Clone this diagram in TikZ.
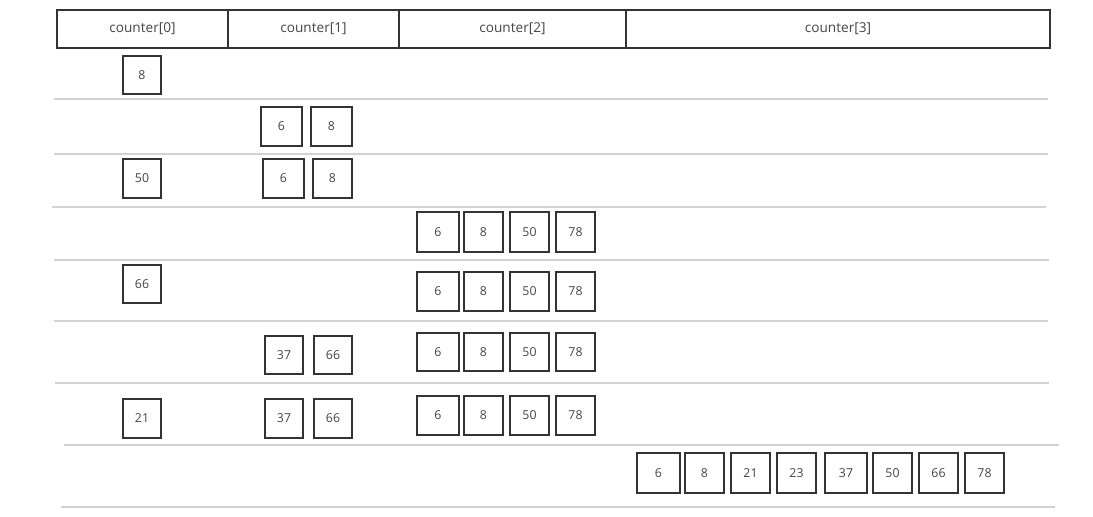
\documentclass[tikz,border=0pt]{standalone}
\usepackage{fontspec}
\setmainfont{Open Sans}
\definecolor{ink}{HTML}{333333}
\definecolor{txt}{HTML}{444444}
\definecolor{sep}{HTML}{D3D3D3}
\tikzset{
  cell/.style={draw=ink, line width=1.6pt, inner sep=0pt, text=txt, font=\fontsize{12.3}{14}\selectfont},
  headcell/.style={draw=ink, line width=1.6pt, inner sep=0pt, text=txt, font=\fontsize{13.6}{15}\selectfont},
  sepline/.style={draw=sep, line width=1.8pt}
}
\newcommand\bx[7][cell]{%
  \pgfmathsetmacro\bw{#5-#3}\pgfmathsetmacro\bh{#6-#4}%
  \node[#1, minimum width=\bw pt, minimum height=\bh pt] (#2) at ({(#3+#5)/2},{(#4+#6)/2}) {#7};}
\begin{document}
\begin{tikzpicture}[x=1pt,y=-1pt]
\useasboundingbox (0,0) rectangle (1093,517);
% header
\bx[headcell]{h0}{57}{10}{228}{48}{counter[0]}
\bx[headcell]{h1}{228}{10}{399}{48}{counter[1]}
\bx[headcell]{h2}{399}{10}{626}{48}{counter[2]}
\bx[headcell]{h3}{626}{10}{1050}{48}{counter[3]}
% separators
\coordinate (s1a) at (54,99);  \coordinate (s1b) at (1048,99);
\coordinate (s2a) at (54,154); \coordinate (s2b) at (1048,154);
\coordinate (s3a) at (52,207); \coordinate (s3b) at (1046,207);
\coordinate (s4a) at (54,260); \coordinate (s4b) at (1049,260);
\coordinate (s5a) at (54,321); \coordinate (s5b) at (1048,321);
\coordinate (s6a) at (55,383); \coordinate (s6b) at (1049,383);
\coordinate (s7a) at (64,445); \coordinate (s7b) at (1059,445);
\coordinate (s8a) at (61,507); \coordinate (s8b) at (1055,507);
\foreach \i in {1,...,8} \draw[sepline] (s\i a) -- (s\i b);
% row 1
\bx{r1a}{123}{56}{161}{94}{8}
% row 2
\bx{r2a}{261}{107}{302}{146}{6}
\bx{r2b}{311}{107}{352}{146}{8}
% row 3
\bx{r3a}{123}{159}{161}{198}{50}
\bx{r3b}{263}{159}{304}{198}{6}
\bx{r3c}{313}{159}{352}{198}{8}
% row 4
\bx{r4a}{417}{212}{459}{252}{6}
\bx{r4b}{464}{212}{503}{252}{8}
\bx{r4c}{510}{212}{549}{252}{50}
\bx{r4d}{556}{212}{595}{252}{78}
% row 5
\bx{r5a}{123}{265}{161}{303}{66}
\bx{r5b}{417}{272}{459}{311}{6}
\bx{r5c}{464}{272}{503}{311}{8}
\bx{r5d}{510}{272}{549}{311}{50}
\bx{r5e}{556}{272}{595}{311}{78}
% row 6
\bx{r6a}{265}{336}{303}{374}{37}
\bx{r6b}{314}{336}{352}{374}{66}
\bx{r6c}{417}{333}{459}{371}{6}
\bx{r6d}{464}{333}{503}{371}{8}
\bx{r6e}{510}{333}{549}{371}{50}
\bx{r6f}{556}{333}{595}{371}{78}
% row 7
\bx{r7a}{123}{399}{161}{438}{21}
\bx{r7b}{265}{399}{303}{438}{37}
\bx{r7c}{314}{399}{352}{438}{66}
\bx{r7d}{417}{396}{459}{435}{6}
\bx{r7e}{464}{396}{503}{435}{8}
\bx{r7f}{510}{396}{549}{435}{50}
\bx{r7g}{556}{396}{595}{435}{78}
% row 8
\bx{r8a}{637}{453}{680}{493}{6}
\bx{r8b}{685}{453}{724}{493}{8}
\bx{r8c}{731}{453}{770}{493}{21}
\bx{r8d}{777}{453}{816}{493}{23}
\bx{r8e}{825}{453}{867}{493}{37}
\bx{r8f}{873}{453}{912}{493}{50}
\bx{r8g}{919}{453}{958}{493}{66}
\bx{r8h}{965}{453}{1004}{493}{78}
\end{tikzpicture}
\end{document}
